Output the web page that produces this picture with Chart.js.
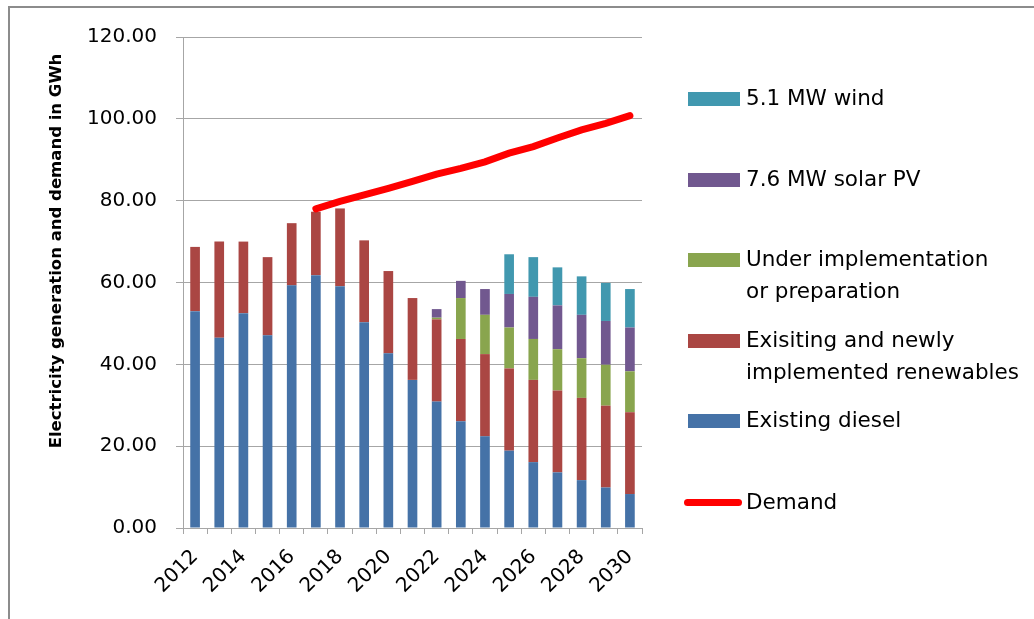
<!DOCTYPE html>
<html>
<head>
<meta charset="utf-8">
<script src="https://cdn.jsdelivr.net/npm/chart.js@4.4.1/dist/chart.umd.min.js"></script>
<style>
  body { margin: 0; background: #fff; font-family: "DejaVu Sans", sans-serif; overflow: hidden; }
  #wrap { position: relative; width: 1034px; height: 619px; overflow: hidden; }
  canvas { position: absolute; left: 0; top: 0; }
  .item { position: absolute; left: 684px; font-size: 21.5px; line-height: 32px; color: #000; }
  .sw { position: absolute; left: 4px; top: 10px; width: 52px; height: 14px; }
  .sw.line { left: 0; top: 13px; width: 58px; height: 7px; border-radius: 4px; }
  .txt { position: absolute; left: 62px; top: 0; white-space: nowrap; }
</style>
</head>
<body>
<div id="wrap">
  <canvas id="chart" width="1034" height="619"></canvas>
  <div id="legend"></div>
</div>
<script>
const years = ["2012","2013","2014","2015","2016","2017","2018","2019","2020","2021",
               "2022","2023","2024","2025","2026","2027","2028","2029","2030"];

const diesel     = [53.0, 46.5, 52.5, 47.1, 59.3, 61.8, 59.1, 50.3, 42.7, 36.2,
                    30.9, 26.1, 22.4, 18.9, 16.1, 13.6, 11.7, 9.9, 8.3];
const renewables = [15.7, 23.5, 17.5, 19.1, 15.2, 15.5, 19.0, 20.0, 20.1, 20.0,
                    20.1, 20.1, 20.1, 20.1, 20.1, 20.0, 20.1, 20.0, 20.0];
const underImpl  = [0, 0, 0, 0, 0, 0, 0, 0, 0, 0,
                    0.4, 10.0, 9.6, 10.0, 10.0, 10.1, 9.7, 10.0, 10.0];
const solarPV    = [0, 0, 0, 0, 0, 0, 0, 0, 0, 0,
                    2.1, 4.2, 6.3, 8.2, 10.3, 10.7, 10.6, 10.7, 10.7];
const wind       = [0, 0, 0, 0, 0, 0, 0, 0, 0, 0,
                    0, 0, 0, 9.7, 9.7, 9.3, 9.4, 9.3, 9.4];
const demand     = [null, null, null, null, null, 78.0, 79.8, 81.4, 83.0, 84.7,
                    86.5, 87.9, 89.5, 91.6, 93.2, 95.3, 97.3, 98.9, 100.8];

const yTicks = [0, 20, 40, 60, 80, 100, 120];
const yTitle = "Electricity generation and demand in GWh";

const tickFont = { family: "DejaVu Sans", size: 20 };

// outer frame (left and top edge only are in view)
const framePlugin = {
  id: "frame",
  beforeDraw(c) {
    const ctx = c.ctx;
    ctx.save();
    ctx.strokeStyle = "#8c8c8c";
    ctx.lineWidth = 2;
    ctx.beginPath();
    ctx.moveTo(9, 619);
    ctx.lineTo(9, 7);
    ctx.lineTo(1034, 7);
    ctx.stroke();
    ctx.restore();
  }
};

// y axis title drawn by hand so it can sit where the original has it
const yTitlePlugin = {
  id: "yTitle",
  afterDraw(c) {
    const ctx = c.ctx;
    ctx.save();
    ctx.translate(57, 251);
    ctx.rotate(-Math.PI / 2);
    ctx.font = "bold 16.5px 'DejaVu Sans'";
    ctx.fillStyle = "#000";
    ctx.textAlign = "center";
    ctx.textBaseline = "middle";
    ctx.fillText(yTitle, 0, 0);
    ctx.restore();
  }
};

const ctx = document.getElementById("chart").getContext("2d");

const chart = new Chart(ctx, {
  type: "bar",
  data: {
    labels: years,
    datasets: [
      { label: "Existing diesel", data: diesel, backgroundColor: "#4572A7", order: 1 },
      { label: ["Exisiting and newly", "implemented renewables"], data: renewables, backgroundColor: "#AA4643", order: 1 },
      { label: ["Under implementation", "or preparation"], data: underImpl, backgroundColor: "#89A54E", order: 1 },
      { label: "7.6 MW solar PV", data: solarPV, backgroundColor: "#71588F", order: 1 },
      { label: "5.1 MW wind", data: wind, backgroundColor: "#4198AF", order: 1 },
      { type: "line", label: "Demand", data: demand, borderColor: "#FF0000", backgroundColor: "#FF0000",
        borderWidth: 7, borderCapStyle: "round", pointRadius: 0, tension: 0, stack: "demand", order: 0 }
    ]
  },
  options: {
    responsive: false,
    animation: false,
    layout: { padding: { left: 0, top: 37, right: 392, bottom: 0 } },
    plugins: {
      legend: { display: false },
      tooltip: { enabled: false }
    },
    datasets: {
      bar: { categoryPercentage: 1, barPercentage: 0.4 }
    },
    scales: {
      x: {
        stacked: true,
        grid: { drawOnChartArea: false, offset: true, color: "#a6a6a6", tickLength: 6 },
        border: { color: "#a6a6a6" },
        ticks: {
          autoSkip: false,
          maxRotation: 45,
          minRotation: 45,
          padding: 11,
          color: "#000",
          font: tickFont,
          callback: (v, i) => (i % 2 === 0 ? years[i] : "")
        },
        afterFit: (s) => { s.height = 91; }
      },
      y: {
        stacked: true,
        min: 0,
        max: 120,
        afterBuildTicks: (s) => { s.ticks = yTicks.map(v => ({ value: v })); },
        grid: { color: "#a6a6a6", tickLength: 7 },
        border: { color: "#a6a6a6" },
        ticks: {
          padding: 19,
          color: "#000",
          font: tickFont,
          callback: (v) => Number(v).toFixed(2)
        },
        afterFit: (s) => { s.width = 183; }
      }
    }
  },
  plugins: [framePlugin, yTitlePlugin]
});

// legend, top item first (reverse of stack order), demand last
const legendEl = document.getElementById("legend");
const legendTops = [82, 163, 243, 324, 404, 486];
const order = [4, 3, 2, 1, 0, 5];
order.forEach((di, k) => {
  const ds = chart.data.datasets[di];
  const item = document.createElement("div");
  item.className = "item";
  item.style.top = legendTops[k] + "px";
  const sw = document.createElement("div");
  sw.className = ds.type === "line" ? "sw line" : "sw";
  sw.style.background = ds.backgroundColor;
  const txt = document.createElement("div");
  txt.className = "txt";
  txt.innerHTML = [].concat(ds.label).join("<br>");
  item.appendChild(sw);
  item.appendChild(txt);
  legendEl.appendChild(item);
});
</script>
</body>
</html>
